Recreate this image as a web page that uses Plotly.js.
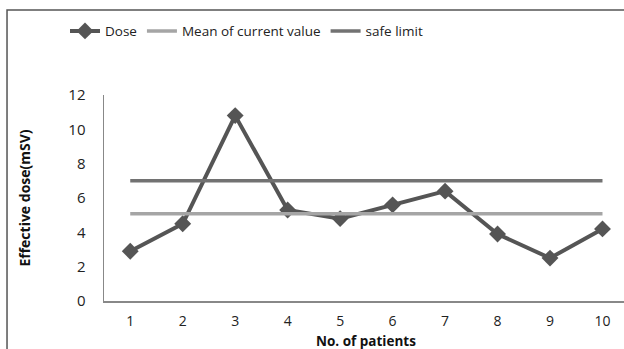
<!DOCTYPE html>
<html>
<head>
<meta charset="utf-8">
<script src="https://cdn.plot.ly/plotly-3.0.1.min.js"></script>
<style>html,body{margin:0;padding:0;background:#fff;}#chart{width:624px;height:349px;}</style>
</head>
<body>
<div id="chart"></div>
<script>
const patients = ['1','2','3','4','5','6','7','8','9','10'];
const dose = [2.9, 4.5, 10.8, 5.3, 4.8, 5.6, 6.4, 3.9, 2.5, 4.2];
const meanValue = [5.08, 5.08, 5.08, 5.08, 5.08, 5.08, 5.08, 5.08, 5.08, 5.08];
const safeLimit = [7, 7, 7, 7, 7, 7, 7, 7, 7, 7];
const yTicks = [0, 2, 4, 6, 8, 10, 12];
const xTitle = 'No. of patients';
const yTitle = 'Effective dose(mSV)';

const font = "'Open Sans', 'DejaVu Sans', sans-serif";

const traces = [
  {x: patients, y: dose, name: 'Dose', type: 'scatter', mode: 'lines+markers',
   line: {color: '#555555', width: 4}, marker: {symbol: 'diamond', size: 13, color: '#555555'}},
  {x: patients, y: meanValue, name: 'Mean of current value', type: 'scatter', mode: 'lines',
   line: {color: '#a5a5a5', width: 3.5}},
  {x: patients, y: safeLimit, name: 'safe limit', type: 'scatter', mode: 'lines',
   line: {color: '#727272', width: 3.5}}
];

const layout = {
  width: 624, height: 349,
  margin: {l: 104, r: 0, t: 95, b: 48},
  paper_bgcolor: '#fff', plot_bgcolor: '#fff',
  font: {family: font, size: 14, color: '#222'},
  showlegend: true,
  legend: {orientation: 'h', x: -0.075, xanchor: 'left', y: 1.31, yanchor: 'middle',
           font: {family: font, size: 13.5, color: '#222'}, traceorder: 'normal',
           itemwidth: 30, bgcolor: 'rgba(0,0,0,0)'},
  xaxis: {
    type: 'category', range: [-0.5, 9.41],
    showline: true, linecolor: '#888', linewidth: 1.5, showgrid: false, zeroline: false,
    ticks: 'outside', ticklen: 7, tickcolor: 'rgba(0,0,0,0)',
    tickfont: {family: font, size: 14, color: '#222'}
  },
  yaxis: {
    range: [0, 12], tickvals: yTicks,
    showline: true, linecolor: '#888', linewidth: 1.5, showgrid: false, zeroline: false,
    ticks: 'outside', ticklen: 14, tickcolor: 'rgba(0,0,0,0)',
    tickfont: {family: font, size: 15, color: '#222'},
    title: {text: yTitle, font: {family: font, size: 14, color: '#111', weight: 'bold'}, standoff: 34}
  },
  annotations: [
    {text: '<b>' + xTitle + '</b>', xref: 'paper', yref: 'paper', x: 0.504, y: -0.193,
     xanchor: 'center', yanchor: 'middle', showarrow: false,
     font: {family: font, size: 13.5, color: '#111'}}
  ],
  shapes: [
    {type: 'rect', xref: 'paper', yref: 'paper', x0: -0.1865, x1: 1.2, y0: -0.5, y1: 1.4126,
     line: {color: '#555', width: 1.5}, fillcolor: 'rgba(0,0,0,0)', layer: 'below'}
  ]
};

Plotly.newPlot('chart', traces, layout, {displayModeBar: false, staticPlot: true});
</script>
</body>
</html>
